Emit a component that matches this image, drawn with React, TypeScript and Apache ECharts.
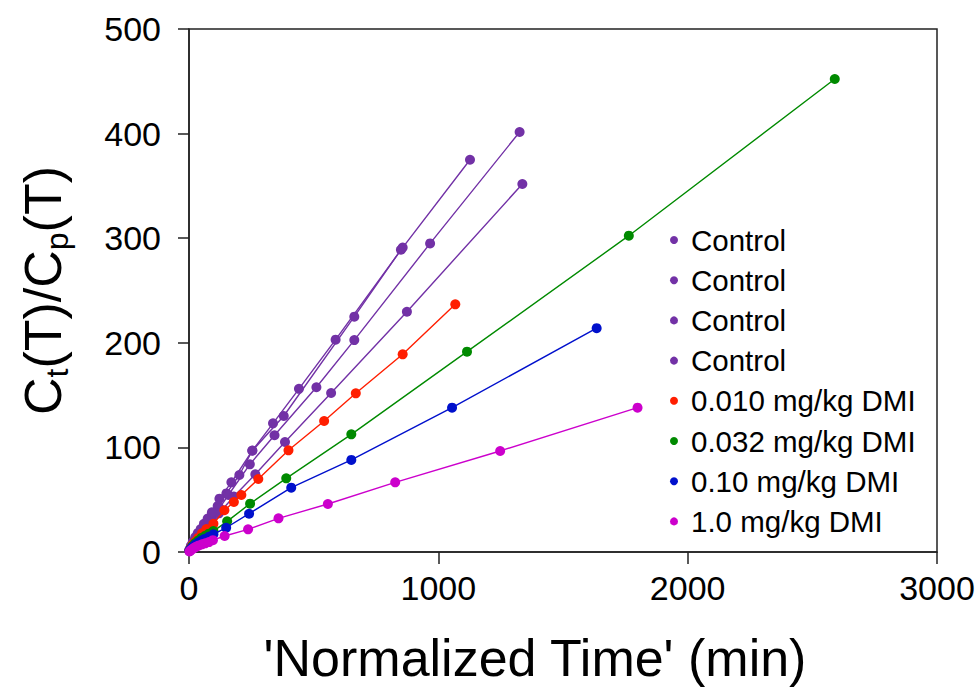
import React, { useEffect, useRef } from "react";
import * as echarts from "echarts";

const legendLabels = [
  "Control",
  "Control",
  "Control",
  "Control",
  "0.010 mg/kg DMI",
  "0.032 mg/kg DMI",
  "0.10 mg/kg DMI",
  "1.0 mg/kg DMI",
];
const seriesColors = ["#7231a6", "#7231a6", "#7231a6", "#7231a6", "#ff1e00", "#008a00", "#0010cc", "#cc00cc"];

const controlAX = [2, 8, 15, 25, 35, 47, 60, 75, 92, 115, 150, 202, 254, 337, 441, 588, 857, 1127];
const controlAY = [2, 5, 8, 12, 16, 20, 25, 30, 36, 44, 56, 73.6, 97, 123, 156, 203, 291, 375];

const controlBX = [2, 8, 15, 25, 35, 47, 60, 75, 92, 122, 158, 244, 343, 511, 663, 967, 1326];
const controlBY = [1.5, 4, 6.5, 10, 13.5, 17, 21.5, 26, 32, 42, 54.5, 83.8, 111.6, 157.5, 202.6, 295, 401.5];

const controlCX = [2, 8, 15, 25, 35, 47, 60, 75, 92, 120, 180, 266, 385, 570, 874, 1337];
const controlCY = [1.5, 3.5, 6, 9, 12, 15.5, 19, 23, 28, 37, 53, 74.3, 105.2, 152, 229.7, 351.8];

const controlDX = [2, 8, 15, 25, 35, 47, 60, 75, 92, 122, 170, 254, 380, 663, 850];
const controlDY = [2.5, 6, 9.5, 14, 18, 22, 27, 32, 38, 51, 66.6, 96.8, 130, 225, 289];

const dmi010X = [2, 8, 15, 25, 37, 52, 70, 98, 142, 180, 210, 278, 399, 542, 669, 857, 1068];
const dmi010Y = [1, 4, 7, 10, 13.5, 17.9, 22, 27, 39.9, 47.8, 54.5, 69.8, 97.2, 125.2, 151.7, 189, 236.8];

const dmi032X = [2, 8, 15, 25, 37, 50, 65, 80, 98, 153, 245, 390, 651, 1115, 1764, 2590];
const dmi032Y = [1, 3.5, 6, 8.5, 11, 13.5, 15.5, 17.5, 20, 29.3, 46.2, 70.4, 112.5, 191.5, 302.4, 452.2];

const dmi10X = [2, 8, 15, 25, 37, 50, 63, 80, 98, 149, 241, 410, 651, 1055, 1635];
const dmi10Y = [1, 3, 5, 7, 9, 11, 12.5, 14.5, 16.9, 23.2, 36.6, 61.5, 88, 138, 214];

const dmi1X = [2, 8, 15, 22, 30, 40, 52, 65, 80, 96, 143, 237, 359, 557, 827, 1248, 1799];
const dmi1Y = [0.5, 1.8, 3, 4.2, 5.2, 6.3, 7.3, 8.3, 9.5, 11.3, 15.3, 21.7, 32.2, 45.9, 66.6, 96.6, 138];

const seriesXs = [controlAX, controlBX, controlCX, controlDX, dmi010X, dmi032X, dmi10X, dmi1X];
const seriesYs = [controlAY, controlBY, controlCY, controlDY, dmi010Y, dmi032Y, dmi10Y, dmi1Y];

const FONT = "'Liberation Sans', Arial, Helvetica, sans-serif";

export default function App() {
  const ref = useRef<HTMLDivElement>(null);
  useEffect(() => {
    if (!ref.current) return;
    const chart = echarts.init(ref.current, undefined, { renderer: "svg" });
    const series = seriesXs.map((xs, i) => ({
      type: "line",
      name: legendLabels[i] + "#" + i,
      data: xs.map((x, j) => [x, seriesYs[i][j]]),
      symbol: "circle",
      symbolSize: 10,
      showSymbol: true,
      lineStyle: { color: seriesColors[i], width: 1.4 },
      itemStyle: { color: seriesColors[i] },
      z: 2 + i,
    }));
    const legendGraphics: any[] = [];
    legendLabels.forEach((label, i) => {
      const y = 240 + i * 40.2;
      legendGraphics.push({
        type: "circle",
        shape: { cx: 674, cy: y, r: 4 },
        style: { fill: seriesColors[i] },
      });
      legendGraphics.push({
        type: "text",
        x: 691,
        y: y,
        style: {
          text: label,
          fontSize: 29.5,
          fontFamily: FONT,
          fill: "#000",
          verticalAlign: "middle",
          align: "left",
        },
      });
    });
    chart.setOption({
      animation: false,
      backgroundColor: "#fff",
      grid: {
        left: 189,
        right: 43,
        top: 29,
        bottom: 136,
        show: true,
        borderColor: "#222",
        borderWidth: 1.5,
        outerBoundsMode: "none",
      },
      xAxis: {
        type: "value",
        min: 0,
        max: 3000,
        interval: 1000,
        name: "'Normalized Time' (min)",
        nameLocation: "middle",
        nameGap: 80,
        nameTextStyle: { fontSize: 52, fontFamily: FONT, color: "#000", padding: [0, 56, 0, 0] },
        axisLine: { show: true, lineStyle: { color: "#222", width: 1.5 } },
        axisTick: { show: true, length: 12, lineStyle: { color: "#222", width: 1.5 } },
        axisLabel: {
          fontSize: 34,
          fontFamily: FONT,
          color: "#000",
          margin: 19,
          formatter: (v: number) => String(v),
        },
        splitLine: { show: false },
      },
      yAxis: {
        type: "value",
        min: 0,
        max: 500,
        interval: 100,
        name: "{m|C}{sub|t}{m|(T)/C}{sub|p}{m|(T)}",
        nameLocation: "middle",
        nameRotate: 90,
        nameGap: 116,
        nameTextStyle: {
          fontSize: 52,
          fontFamily: FONT,
          color: "#000",
          rich: {
            m: { fontSize: 52, fontFamily: FONT, color: "#000", lineHeight: 56, verticalAlign: "top" },
            sub: { fontSize: 32, fontFamily: FONT, color: "#000", verticalAlign: "bottom", lineHeight: 24 },
          },
        },
        axisLine: { show: true, lineStyle: { color: "#222", width: 1.5 } },
        axisTick: { show: true, length: 11, lineStyle: { color: "#222", width: 1.5 } },
        axisLabel: {
          fontSize: 34,
          fontFamily: FONT,
          color: "#000",
          margin: 28,
          formatter: (v: number) => String(v),
        },
        splitLine: { show: false },
      },
      graphic: legendGraphics,
      series,
    });
    return () => chart.dispose();
  }, []);
  return <div ref={ref} style={{ position: "fixed", left: 0, top: 0, width: 980, height: 688 }} />;
}
